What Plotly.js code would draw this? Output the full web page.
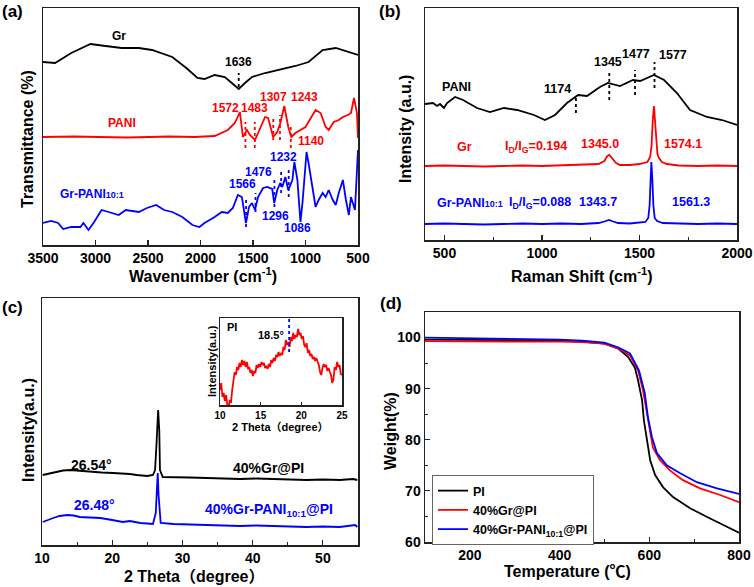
<!DOCTYPE html>
<html>
<head>
<meta charset="utf-8">
<script src="https://cdn.plot.ly/plotly-3.0.1.min.js"></script>
<style>html,body{margin:0;padding:0;background:#fff;}#chart{width:754px;height:587px;}</style>
</head>
<body>
<div id="chart"></div>
<script>
// ---------- Panel (a): FTIR (arbitrary offset units) ----------
const a_gr_x = [3500,3385,3231,3048,2904,2750,2587,2462,2269,2135,2029,1962,1865,1769,1702,1636,1577,1510,1385,1221,1096,971,837,712,587,500];
const a_gr_y = [183,182,192,201,199,197,197,195,188,177,167,166,170,168,162,156,162,168,172,176,179,183,195,197,193,190];

const a_pani_x = [3500,3200,2971,2700,2490,2300,2058,1865,1740,1673,1625,1596,1558,1529,1481,1433,1385,1356,1308,1269,1240,1202,1164,1135,1096,1000,904,856,808,779,731,683,644,596,567,538,510,500];
const a_pani_y = [108,108.5,108,107.5,108,108.5,108,109,115,122,133,108,115,110,105,117,128,127,108,113,122,139,118,108,112,118,135,132,118,115,123,125,128,130,132,147,132,107];

const a_gp_x = [3500,3423,3356,3308,3231,3144,3115,3067,3019,2942,2875,2779,2712,2587,2510,2423,2346,2269,2173,2077,2010,1962,1865,1798,1740,1692,1644,1606,1567,1538,1510,1481,1452,1404,1365,1317,1298,1269,1240,1221,1192,1164,1125,1106,1077,1048,1029,990,971,933,904,875,837,808,779,740,712,683,644,615,587,567,548,529,500];
const a_gp_y = [22,24,22,16,18,18,22,15,22,35,33,30,35,33,37,40,35,33,28,20,18,22,28,33,32,37,50,48,22,38,42,35,48,57,58,56,42,55,62,58,68,55,65,83,65,23,42,93,82,58,38,45,52,48,55,45,40,52,65,45,30,48,42,35,95];

// dashed peak markers (a)
const a_dash_gr_x = [1636];        const a_dash_gr_y = [[158,172]];
const a_dash_pani_x = [1572,1483,1307,1243,1140]; const a_dash_pani_y = [[97,123],[97,123],[105,128],[105,130],[97,120]];
const a_dash_gp_x = [1566,1476,1296,1232,1160];   const a_dash_gp_y = [[18,48],[33,52],[38,65],[52,73],[48,75]];

// ---------- Panel (b): Raman ----------
const b_pani_x = [400,441,462,477,497,513,554,595,667,733,805,872,959,1015,1067,1128,1185,1231,1297,1338,1400,1467,1503,1574,1626,1692,1759,1846,1923,2000];
const b_pani_y = [136,137,134,136,132,137,143,140,132,128,132,130,125,120,125,137,145,144,153,157,154,160,159,165,160,147,130,123,120,115];

const b_gr_x = [400,500,600,700,800,900,1000,1100,1200,1260,1290,1320,1335,1345,1360,1380,1400,1450,1500,1540,1555,1562,1568,1574,1580,1586,1592,1600,1615,1640,1700,1800,1900,2000];
const b_gr_y = [74,74.5,74,73.5,74,74.5,74,74.5,75,75.5,76,79,84,85,82,77,75,75,76,78,83,95,120,134,118,95,86,82,78,76,74.5,74,74.5,74];

const b_gp_x = [400,500,600,700,800,900,1000,1100,1200,1260,1290,1320,1343,1365,1390,1450,1500,1530,1545,1552,1557,1561,1566,1571,1578,1590,1620,1700,1800,1900,2000];
const b_gp_y = [16,16.5,16,15.5,16,16.5,16,16.5,16,16.5,17,18.5,20,18.5,17,16.5,17,18,22,35,60,78,60,35,22,19,17,16.5,16,16.5,16];

const b_dash_x = [1174,1345,1477,1577];
const b_dash_y = [[127,145],[140,167],[145,170],[152,178]];

// ---------- Panel (c): XRD ----------
const c_gr_x = [10.1,11.0,12.1,13.0,14.0,15.5,16.8,18.5,20.1,21.5,22.5,23.5,25.0,25.8,26.1,26.3,26.54,26.7,26.8,27.2,28.7,31.0,33.5,36.0,38.2,40.5,42.9,45.0,47.7,50.0,52.4,54.3,54.9];
const c_gr_y = [70,71.5,73,74.5,75,74,73,72.5,72,71.5,71,70,69,70,75,100,135,115,75,68,68,67.5,67,66.5,66,66.5,66,65.5,65,65.5,65,66,65];

const c_gp_x = [10.1,10.8,11.6,12.5,13.6,14.5,15.4,16.8,18.3,20.0,21.5,22.5,23.2,24.0,25.0,25.8,26.2,26.35,26.48,26.6,26.75,26.9,28.7,31.0,33.5,36.0,38.2,40.5,42.9,45.0,47.7,50.0,52.4,54.6,54.9];
const c_gp_y = [23,25,27,29,30,29.5,28,27.5,27,25,23,24,23,22,21.5,21,32,55,72,50,32,22,21,20.5,20,19.5,19,19.5,19,18.5,18,18.5,18,20,18];

// inset (PI)
const i_x = [10.0,10.15,10.3,10.45,10.6,10.75,10.9,11.05,11.2,11.35,11.5,11.65,11.8,11.95,12.1,12.25,12.4,12.55,12.7,12.85,13.0,13.15,13.3,13.45,13.6,13.75,13.9,14.05,14.2,14.35,14.5,14.65,14.8,14.95,15.1,15.25,15.4,15.55,15.7,15.85,16.0,16.15,16.3,16.45,16.6,16.75,16.9,17.05,17.2,17.35,17.5,17.65,17.8,17.95,18.1,18.25,18.4,18.55,18.7,18.85,19.0,19.15,19.3,19.45,19.6,19.75,19.9,20.05,20.2,20.35,20.5,20.65,20.8,20.95,21.1,21.25,21.4,21.55,21.7,21.85,22.0,22.15,22.3,22.45,22.6,22.75,22.9,23.05,23.2,23.35,23.5,23.65,23.8,23.95,24.1,24.25,24.4,24.55,24.7,24.85,25.0];
const i_y = [15,22,8,12,4,10,0,-3,5,2,15,25,33,30,38,35,42,38,45,40,44,38,43,36,38,32,35,29,34,32,40,37,41,38,43,40,42,37,39,36,41,38,45,42,47,44,50,48,53,49,52,50,58,55,65,60,63,58,68,64,72,66,70,68,76,70,72,66,69,60,58,62,52,55,49,51,46,48,44,47,43,40,33,30,37,41,38,40,34,37,33,30,22,26,38,35,43,38,40,31,30];
const i_dash_x = [18.5]; const i_dash_y = [[53,87]];

// ---------- Panel (d): TGA ----------
const d_pi_x = [100,200,300,400,450,500,530,553,568,575,584,588,595,602,613,631,653,691,729,764,800];
const d_pi_y = [99.6,99.6,99.5,99.4,99.2,98.8,97.9,96.2,94.1,91.6,87.7,83.8,79.9,76.0,73.1,70.7,68.8,66.6,64.9,63.3,61.8];
const d_gr_x = [100,200,300,400,450,500,530,557,575,586,595,602,608,624,646,675,713,758,800];
const d_gr_y = [99.3,99.2,99.2,99.2,99.1,98.8,97.9,96.5,93.6,89.7,85.2,81.3,78.5,76.0,74.0,72.1,70.5,69.2,67.8];
const d_gp_x = [100,200,300,400,450,500,530,557,577,590,597,606,617,639,668,706,751,800];
const d_gp_y = [100.0,99.9,99.8,99.6,99.4,99.0,98.1,96.9,93.6,89.1,84.4,80.5,77.4,75.0,73.5,71.7,70.5,69.4];

const legendNames = ['PI','40%Gr@PI','40%Gr-PANI<sub>10:1</sub>@PI'];

// ---------- build ----------
const W = 754, H = 587;
const FONT = 'Liberation Sans, Arial, Noto Sans CJK SC, sans-serif';
const RED = '#ff0000', BLUE = '#0000ff', BLACK = '#000000';
function dx(a,b){return [a/W, b/W];}
function dy(top,bot){return [1-bot/H, 1-top/H];}

function line(x,y,xa,ya,color,name,show){
  return {x:x,y:y,xaxis:xa,yaxis:ya,type:'scatter',mode:'lines',
    line:{color:color,width:1.8},name:name||'',showlegend:!!show,hoverinfo:'skip'};
}
function dashes(xs,ys,xa,ya,color){
  const X=[],Y=[];
  xs.forEach((v,i)=>{X.push(v,v,null);Y.push(ys[i][0],ys[i][1],null);});
  return {x:X,y:Y,xaxis:xa,yaxis:ya,type:'scatter',mode:'lines',
    line:{color:color,width:1.8,dash:'3px,3px'},showlegend:false,hoverinfo:'skip'};
}

const traces = [
  line(a_gr_x,a_gr_y,'x','y',BLACK),
  line(a_pani_x,a_pani_y,'x','y',RED),
  line(a_gp_x,a_gp_y,'x','y',BLUE),
  dashes(a_dash_gr_x,a_dash_gr_y,'x','y',BLACK),
  dashes(a_dash_pani_x,a_dash_pani_y,'x','y',RED),
  dashes(a_dash_gp_x,a_dash_gp_y,'x','y',BLUE),
  line(b_pani_x,b_pani_y,'x2','y2',BLACK),
  line(b_gr_x,b_gr_y,'x2','y2',RED),
  line(b_gp_x,b_gp_y,'x2','y2',BLUE),
  dashes(b_dash_x,b_dash_y,'x2','y2',BLACK),
  line(c_gr_x,c_gr_y,'x3','y3',BLACK),
  line(c_gp_x,c_gp_y,'x3','y3',BLUE),
  line(i_x,i_y,'x4','y4',RED),
  dashes(i_dash_x,i_dash_y,'x4','y4',BLUE),
  line(d_pi_x,d_pi_y,'x5','y5',BLACK,legendNames[0],true),
  line(d_gr_x,d_gr_y,'x5','y5',RED,legendNames[1],true),
  line(d_gp_x,d_gp_y,'x5','y5',BLUE,legendNames[2],true)
];

const AX = '#222';
function xax(domain,anchor,range,dtick,minor,opts){
  const o = {domain:domain,anchor:anchor,range:range,dtick:dtick,tick0:0,
    showline:true,mirror:true,linecolor:AX,linewidth:1.5,showgrid:false,zeroline:false,
    ticks:'inside',ticklen:5,tickwidth:1.2,tickcolor:AX,
    tickfont:{family:FONT,size:14,color:'#000',weight:'bold'}};
  if(minor) o.minor = {dtick:minor,ticks:'inside',ticklen:3,tickcolor:AX,tickwidth:1};
  return Object.assign(o,opts||{});
}
function yax(domain,anchor,range,opts){
  return Object.assign({domain:domain,anchor:anchor,range:range,
    showline:true,mirror:true,linecolor:AX,linewidth:1.5,showgrid:false,zeroline:false,
    ticks:'',showticklabels:false},opts||{});
}

function ann(text,x,y,xref,yref,color,size,extra){
  return Object.assign({text:text,x:x,y:y,xref:xref,yref:yref,showarrow:false,
    font:{family:FONT,size:size,color:color,weight:'bold'},xanchor:'center',yanchor:'middle'},extra||{});
}
function pann(text,px,py,size,angle){
  return ann(text,px/W,1-py/H,'paper','paper','#000',size,angle?{textangle:angle}:{});
}
const small = s => '<span style="font-size:9px">'+s+'</span>';

const annotations = [
  // panel labels
  pann('(a)',12,11,17),
  pann('(b)',390,11,17),
  pann('(c)',12,307,17),
  pann('(d)',391,303,17),
  // axis titles
  pann('Transmittance (%)',28,139,16,-90),
  pann('Wavenumber (cm<sup>-1</sup>)',203,275,16),
  pann('Intensity (a.u.)',405,129,16,-90),
  pann('Raman Shift (cm<sup>-1</sup>)',582,275,16),
  pann('Intensity(a.u.)',28,430,16,-90),
  pann('2 Theta（degree）',194,576,16),
  pann('Intensity(a.u.)',212,361,11,-90),
  pann('2 Theta（degree）',280,427,11),
  pann('Weight(%)',390,431,16,-90),
  pann('Temperature (℃)',567,571,16),
  // (a)
  ann('Gr',2779,209,'x','y',BLACK,12),
  ann('1636',1640,183,'x','y',BLACK,12),
  ann('PANI',2750,122,'x','y',RED,12),
  ann('1572',1760,137,'x','y',RED,12),
  ann('1483',1490,137,'x','y',RED,12),
  ann('1307',1308,148,'x','y',RED,12),
  ann('1243',1010,148,'x','y',RED,12),
  ann('1140',952,104,'x','y',RED,12),
  ann('Gr-PANI'+small('10:1'),3038,51,'x','y',BLUE,12),
  ann('1566',1596,61,'x','y',BLUE,12),
  ann('1476',1452,73,'x','y',BLUE,12),
  ann('1232',1212,88,'x','y',BLUE,12),
  ann('1296',1289,29,'x','y',BLUE,12),
  ann('1086',1077,17,'x','y',BLUE,12),
  // (b)
  ann('PANI',564,153,'x2','y2',BLACK,12.5),
  ann('1174',1077,151,'x2','y2',BLACK,12.5),
  ann('1345',1338,178,'x2','y2',BLACK,12.5),
  ann('1477',1482,186,'x2','y2',BLACK,12.5),
  ann('1577',1672,185,'x2','y2',BLACK,12.5),
  ann('Gr',605,93,'x2','y2',RED,12.5),
  ann('I<sub>D</sub>/I<sub>G</sub>=0.194',969,93,'x2','y2',RED,12.5),
  ann('1345.0',1297,96,'x2','y2',RED,12.5),
  ann('1574.1',1723,96,'x2','y2',RED,12.5),
  ann('Gr-PANI'+small('10:1'),631,37,'x2','y2',BLUE,12.5),
  ann('I<sub>D</sub>/I<sub>G</sub>=0.088',990,37,'x2','y2',BLUE,12.5),
  ann('1343.7',1287,38,'x2','y2',BLUE,12.5),
  ann('1561.3',1764,38,'x2','y2',BLUE,12.5),
  // (c)
  ann('26.54°',17.0,80,'x3','y3',BLACK,14),
  ann('40%Gr@PI',42.3,77,'x3','y3',BLACK,14),
  ann('26.48°',17.5,40,'x3','y3',BLUE,14),
  ann('40%Gr-PANI<sub>10:1</sub>@PI',42.3,35,'x3','y3',BLUE,14),
  // inset
  ann('PI',11.5,78,'x4','y4',BLACK,11),
  ann('18.5°',16.3,70,'x4','y4',BLACK,11)
];

const layout = {
  width:W,height:H,margin:{l:0,r:0,t:0,b:0},
  paper_bgcolor:'#fff',plot_bgcolor:'rgba(0,0,0,0)',
  font:{family:FONT,color:'#000',weight:'bold'},
  showlegend:true,
  xaxis: xax(dx(43,358),'y',[3500,500],500,null),
  yaxis: yax(dy(8,245),'x',[0,237]),
  xaxis2: xax(dx(425,737),'y2',[400,2000],500,250),
  yaxis2: yax(dy(8,240),'x2',[0,232]),
  xaxis3: xax(dx(42,358),'y3',[10,55],10,5),
  yaxis3: yax(dy(298,545),'x3',[0,247]),
  xaxis4: xax(dx(220,342),'y4',[10,25],5,null,{
    tickfont:{family:FONT,size:10,color:'#000',weight:'bold'},ticklen:3}),
  yaxis4: yax(dy(318,405),'x4',[0,87]),
  xaxis5: xax(dx(425,739),'y5',[100,800],200,100),
  yaxis5: yax(dy(312,542),'x5',[60,105],{
    ticks:'inside',ticklen:5,tickwidth:1.2,tickcolor:AX,showticklabels:true,dtick:10,tick0:0,
    minor:{dtick:5,ticks:'inside',ticklen:3,tickcolor:AX,tickwidth:1},
    tickfont:{family:FONT,size:14,color:'#000',weight:'bold'}}),
  legend:{x:432/W,y:1-475/H,xanchor:'left',yanchor:'top',bgcolor:'#fff',
    bordercolor:'#666',borderwidth:1,font:{family:FONT,size:12.5,color:'#000',weight:'bold'},
    tracegroupgap:0,itemwidth:30},
  annotations:annotations
};

Plotly.newPlot('chart',traces,layout,{staticPlot:true,displayModeBar:false});
</script>
</body>
</html>
